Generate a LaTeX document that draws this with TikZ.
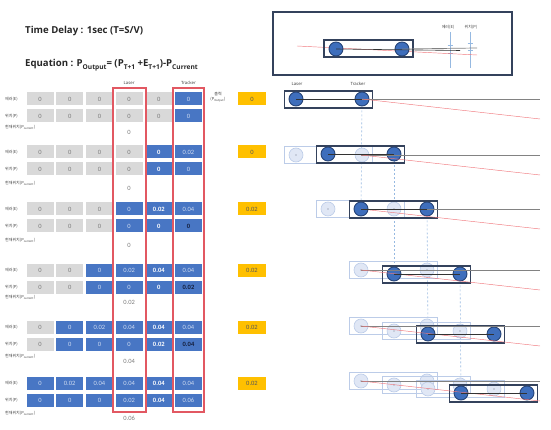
\documentclass[tikz,border=0pt]{standalone}
\usepackage{fontspec}
\setmainfont{Noto Sans}
\newfontfamily\titlefont{Open Sans}
\newfontfamily\krfont{Noto Sans CJK KR}
\newfontfamily\numfont{Carlito}
\usetikzlibrary{backgrounds}
\definecolor{cblue}{RGB}{72,118,196}
\definecolor{cgray}{RGB}{217,217,217}
\definecolor{tgray}{RGB}{125,125,125}
\definecolor{tlight}{RGB}{205,218,240}
\definecolor{tdark}{RGB}{20,30,60}
\definecolor{redbox}{RGB}{226,88,98}
\definecolor{gold}{RGB}{255,192,0}
\definecolor{pblue}{RGB}{62,110,188}
\definecolor{pedge}{RGB}{38,68,120}
\definecolor{fblue}{RGB}{224,231,245}
\definecolor{fedge}{RGB}{188,204,232}
\definecolor{boxedge}{RGB}{52,66,92}
\definecolor{dashblue}{RGB}{150,185,225}
\definecolor{refline}{RGB}{130,130,130}
\definecolor{redline}{RGB}{240,120,125}
\newcommand\sbt[1]{\raisebox{-0.28em}{\fontsize{6.6}{7}\selectfont #1}}
\tikzset{
 cellbase/.style={minimum width=27pt, minimum height=13pt, inner sep=0pt, font=\numfont\fontsize{6.5}{7}\selectfont},
 tcg/.style={cellbase, fill=cgray, text=tgray},
 tcb/.style={cellbase, fill=cblue, text=tlight},
 tcw/.style={cellbase, fill=cblue, text=white, font=\numfont\bfseries\fontsize{6.5}{7}\selectfont},
 tcd/.style={cellbase, fill=cblue, text=tdark, font=\numfont\bfseries\fontsize{6.5}{7}\selectfont},
 curval/.style={inner sep=0pt, text=tgray, font=\numfont\fontsize{6.5}{7}\selectfont},
 lbl/.style={inner sep=0pt, anchor=west, text=black!75, font=\krfont\fontsize{4}{4.5}\selectfont},
 hdr/.style={inner sep=0pt, text=black!75, font=\fontsize{4.3}{5}\selectfont},
 ttl/.style={anchor=west, inner sep=0pt, text=black!85, font=\titlefont\bfseries\fontsize{9.6}{11}\selectfont},
 redframe/.style={draw=redbox, line width=1.3pt, minimum width=33pt, minimum height=324pt, inner sep=0pt},
 outbox/.style={fill=gold, minimum width=28pt, minimum height=13pt, inner sep=0pt, text=black!65, font=\numfont\fontsize{6.5}{7}\selectfont},
 pcirc/.style={circle, fill=pblue, draw=pedge, line width=0.9pt, minimum size=14pt, inner sep=0pt},
 fcirc/.style={circle, fill=fblue, draw=fedge, line width=0.6pt, minimum size=14pt, inner sep=0pt},
 dbox/.style={draw=boxedge, line width=1.3pt, minimum width=88pt, minimum height=17pt, inner sep=0pt},
 fbox/.style={draw=fedge, line width=0.6pt, minimum width=88pt, minimum height=17pt, inner sep=0pt},
 pline/.style={draw=black!80, line width=0.6pt},
 refl/.style={draw=refline, line width=0.7pt},
 redl/.style={draw=redline, line width=0.45pt},
 vdash/.style={draw=dashblue, line width=0.6pt, dash pattern=on 2pt off 2pt},
 vline/.style={draw=dashblue, line width=0.6pt},
}
\newcommand\trow[3]{\foreach[count=\i] \s/\v in {#3}{\node[\s] (#1c\i) at ({40+29.7*(\i-1)},#2) {\v};}}
\begin{document}
\begin{tikzpicture}[x=1pt,y=-1pt]
\useasboundingbox (0,0) rectangle (551,430);
% titles
\node[ttl] (title) at (25,31) {Time Delay : 1sec (T=S/V)};
\node[ttl] (eq) at (25,65) {Equation : P\sbt{Output}= (P\sbt{T+1} +E\sbt{T+1})-P\sbt{Current}};
% header
\node[hdr] (hlaser) at (129.1,83) {Laser};
\node[hdr] (htracker) at (188.5,83) {Tracker};
\node[inner sep=0pt, align=center, text=black!75, font=\krfont\fontsize{4}{4.5}\selectfont] (outlbl) at (218,97) {출력\\(P\textsubscript{Output})};
% table
\trow{e1}{99}{tcg/0,tcg/0,tcg/0,tcg/0,tcg/0,tcb/0}
\trow{p1}{116}{tcg/0,tcg/0,tcg/0,tcg/0,tcg/0,tcb/0}
\trow{e2}{152}{tcg/0,tcg/0,tcg/0,tcg/0,tcw/0,tcb/0.02}
\trow{p2}{169}{tcg/0,tcg/0,tcg/0,tcg/0,tcw/0,tcb/0}
\trow{e3}{209}{tcg/0,tcg/0,tcg/0,tcb/0,tcw/0.02,tcb/0.04}
\trow{p3}{226}{tcg/0,tcg/0,tcg/0,tcb/0,tcw/0,tcd/0}
\trow{e4}{270}{tcg/0,tcg/0,tcb/0,tcb/0.02,tcw/0.04,tcb/0.04}
\trow{p4}{287}{tcg/0,tcg/0,tcb/0,tcb/0,tcw/0,tcd/0.02}
\trow{e5}{327}{tcg/0,tcb/0,tcb/0.02,tcb/0.04,tcw/0.04,tcb/0.04}
\trow{p5}{344}{tcg/0,tcb/0,tcb/0,tcb/0,tcw/0.02,tcd/0.04}
\trow{e6}{383}{tcb/0,tcb/0.02,tcb/0.04,tcb/0.04,tcw/0.04,tcb/0.04}
\trow{p6}{400}{tcb/0,tcb/0,tcb/0,tcb/0.02,tcw/0.04,tcb/0.06}
\foreach \k/\ye/\yc/\cv/\ov in {1/99/132/0/0, 2/152/188/0/0, 3/209/245/0/0.02, 4/270/302/0.02/0.02, 5/327/361/0.04/0.02, 6/383/418/0.06/0.02}{
  \node[lbl] (le\k) at (5,\ye) {에러(E)};
  \node[lbl] (lp\k) at (5,\ye+17) {위치(P)};
  \node[lbl] (lc\k) at (5,\yc-5) {현재위치(P\textsubscript{current})};
  \node[curval] (cur\k) at (129.1,\yc) {\cv};
  \node[outbox] (out\k) at (252,\ye) {\ov};
}
\node[redframe] (laserframe) at (129.5,250) {};
\node[redframe, minimum width=31pt] (trackerframe) at (188.5,250) {};
% top box
\node[draw=boxedge, line width=1.2pt, minimum width=239pt, minimum height=63pt, inner sep=0pt] (topbox) at (392.5,43.5) {};
\coordinate (trs) at (297,46); \coordinate (tre) at (477,55);
\coordinate (tde) at (460,50.5); \coordinate (tge) at (477,48);
\coordinate (ve1a) at (450,32); \coordinate (ve1b) at (450,68);
\coordinate (vp1a) at (470,32); \coordinate (vp1b) at (470,68);
\draw[vline] (ve1a) -- (ve1b);
\draw[vline] (vp1a) -- (vp1b);
\foreach \xx/\yy in {450/45,450/53,470/43,470/50}{\draw[vline] (\xx-2.5,\yy) -- (\xx+2.5,\yy);}
\node[lbl, anchor=center] (tlE) at (448,27) {에러(E)};
\node[lbl, anchor=center] (tlP) at (471,27) {위치(P)};
\draw[redl] (trs) -- (tre);
\node[dbox, minimum width=89pt] (tbox) at (368.5,48.5) {};
\node[pcirc] (tl) at (336,49) {};
\node[pcirc] (tt) at (402,49) {};
\draw[pline] (tl.center) -- (tde);
\draw[refl] (tt.center) -- (tge);
% right diagram labels
\node[hdr] (rlaser) at (297,84) {Laser};
\node[hdr] (rtracker) at (358,84) {Tracker};
% faded pairs
\foreach \n/\lx/\yy in {f2a/296/155, f3a/328/209, f4a/361/270, f5a/361/326, f5b/394/331, f6a/361/381, f6b/394/385, f6c/428/389}{
  \node[fbox] (\n box) at (\lx+32.5,\yy) {};
  \node[fcirc] (\n l) at (\lx,\yy) {};
  \node[fcirc] (\n t) at (\lx+66,\yy) {};
  \fill[fedge!60!black] (\n l.center) circle (0.7pt) (\n t.center) circle (0.7pt);
}
% reference lines
\foreach \k/\ry in {2/155,3/209,4/270,5/326,6/381}{
  \coordinate (g\k s) at (361,\ry);
}
\foreach \k/\ry in {1/99,2/155,3/209,4/270,5/326,6/381}{
  \coordinate (g\k e) at (540,\ry);
  \coordinate (r\k e) at (540,\ry+20);
}
% dark pairs
\foreach \k/\lx/\yy in {1/296/99, 2/328/154, 3/361/209, 4/394/274, 5/428/334, 6/461/393}{
  \node[dbox] (box\k) at (\lx+32.5,\yy+0.5) {};
  \node[pcirc] (l\k) at (\lx,\yy) {};
  \node[pcirc] (t\k) at (\lx+66,\yy) {};
}
\draw[refl] (t1.center) -- (g1e);
\draw[redl] (t1.center) -- (r1e);
\foreach \k in {2,...,6}{
  \draw[refl] (g\k s) -- (g\k e);
  \draw[redl] (g\k s) -- (r\k e);
}
\foreach \k in {1,...,6}{
  \draw[pline] (l\k.center) -- (t\k.center);
}
\begin{pgfonlayer}{background}
\draw[vdash] (t1) -- (l3);
\draw[vdash] (t2) -- (l4);
\draw[vdash] (t3) -- (l5);
\draw[vdash] (t4) -- (l6);
\end{pgfonlayer}
\end{tikzpicture}
\end{document}
